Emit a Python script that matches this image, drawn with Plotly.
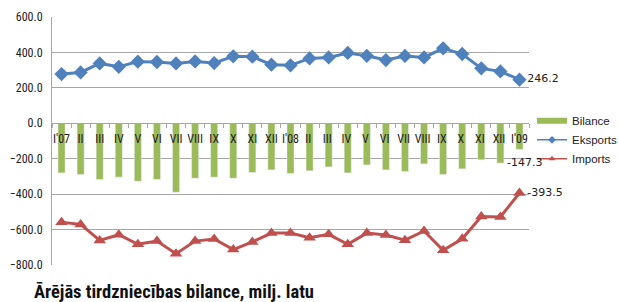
import plotly.graph_objects as go

categories = ["I'07", "II", "III", "IV", "V", "VI", "VII", "VIII", "IX", "X", "XI", "XII",
              "I'08", "II ", "III ", "IV ", "V ", "VI ", "VII ", "VIII ", "IX ", "X ", "XI ", "XII ", "I'09"]
eksports = [278, 287, 338, 319, 348, 346, 338, 349, 340, 378, 376, 331,
            327, 366, 372, 397, 381, 357, 380, 372, 423, 391, 310, 293, 246.2]
imports = [-558, -571, -661, -629, -683, -665, -736, -665, -653, -713, -670, -620,
           -620, -646, -627, -683, -620, -631, -660, -608, -717, -652, -526, -529, -393.5]
bilance = [-280, -289, -317, -304, -327, -317, -389, -310, -304, -310, -278, -263,
           -283, -268, -246, -280, -235, -263, -272, -229, -289, -257, -206, -225, -147.3]
y_ticks = [600, 400, 200, 0, -200, -400, -600, -800]
title_text = "Ārējās tirdzniecības bilance, milj. latu"

FONT = "Liberation Sans Narrow, Arial Narrow, Roboto Condensed, Liberation Sans, sans-serif"
LBL = "DejaVu Sans, sans-serif"
LEG = "Liberation Sans, Arial, sans-serif"
YMIN, YMAX = -800, 600
GREEN, BLUE, RED = "#9BBB59", "#4F81BD", "#C0504D"

def last_only(vals):
    return [""] * (len(vals) - 1) + [f"{vals[-1]:.1f}"]

fig = go.Figure()
fig.add_trace(go.Bar(x=categories, y=bilance, name="Bilance", marker_color=GREEN,
                     width=0.37, showlegend=False))
fig.add_trace(go.Scatter(x=categories, y=eksports, name="Eksports", mode="lines+markers+text",
                         line=dict(color=BLUE, width=3), showlegend=False,
                         marker=dict(symbol="diamond", size=11, color=BLUE),
                         text=last_only(eksports), textposition="middle right",
                         cliponaxis=False,
                         textfont=dict(family=LBL, size=11, color="#222")))
fig.add_trace(go.Scatter(x=categories, y=imports, name="Imports", mode="lines+markers+text",
                         line=dict(color=RED, width=3), showlegend=False,
                         marker=dict(symbol="triangle-up", size=11, color=RED),
                         text=last_only(imports), textposition="middle right",
                         cliponaxis=False,
                         textfont=dict(family=LBL, size=11, color="#222")))
# legend-only entries (Excel-style small legend symbols)
fig.add_trace(go.Scatter(x=[None], y=[None], name="Bilance", mode="lines",
                         line=dict(color=GREEN, width=6)))
fig.add_trace(go.Scatter(x=[None], y=[None], name="Eksports", mode="lines+markers",
                         line=dict(color=BLUE, width=1.5),
                         marker=dict(symbol="diamond", size=6, color=BLUE)))
fig.add_trace(go.Scatter(x=[None], y=[None], name="Imports", mode="lines+markers",
                         line=dict(color=RED, width=1.5),
                         marker=dict(symbol="triangle-up", size=6, color=RED)))

fig.add_annotation(x=categories[-1], y=bilance[-1], text=f"{bilance[-1]:.1f}", showarrow=False,
                   xanchor="left", yanchor="middle", xshift=-14, yshift=-13,
                   font=dict(family=LBL, size=11, color="#222"))

fig.add_annotation(xref="paper", yref="paper", x=-0.042, y=-0.058, text=f"<b>{title_text}</b>",
                   showarrow=False, xanchor="left", yanchor="top",
                   font=dict(family=FONT, size=18.5, color="#111"))

zero_pos = (0 - YMIN) / (YMAX - YMIN)

fig.update_layout(
    width=619, height=302,
    margin=dict(l=52, r=90, t=17, b=37, autoexpand=False),
    plot_bgcolor="white", paper_bgcolor="white",
    showlegend=True,
    legend=dict(x=1.0063, y=0.64, xanchor="left", yanchor="top",
                font=dict(family=LEG, size=11.5, color="#222"),
                tracegroupgap=0, itemwidth=30, bgcolor="rgba(0,0,0,0)"),
    xaxis=dict(anchor="free", position=zero_pos, showgrid=False,
               showline=True, linecolor="#A6A6A6", linewidth=1,
               ticks="outside", tickson="boundaries", ticklen=4, tickcolor="#A6A6A6",
               tickangle=0, automargin=False, ticklabelstandoff=4,
               tickfont=dict(family=FONT, size=12, color="#222"),
               range=[-0.5, len(categories) - 0.5], fixedrange=True),
    yaxis=dict(range=[YMIN, YMAX], tickvals=y_ticks, tickformat=".1f", automargin=False,
               showgrid=True, gridcolor="#A6A6A6", gridwidth=1,
               zeroline=False,
               showline=True, linecolor="#A6A6A6", linewidth=1,
               tickfont=dict(family=FONT, size=12, color="#222"), ticklabelstandoff=6),
)

fig.write_html("out.html", config={"displayModeBar": False},
               post_script="document.body.style.margin='0';document.body.style.padding='0';")
